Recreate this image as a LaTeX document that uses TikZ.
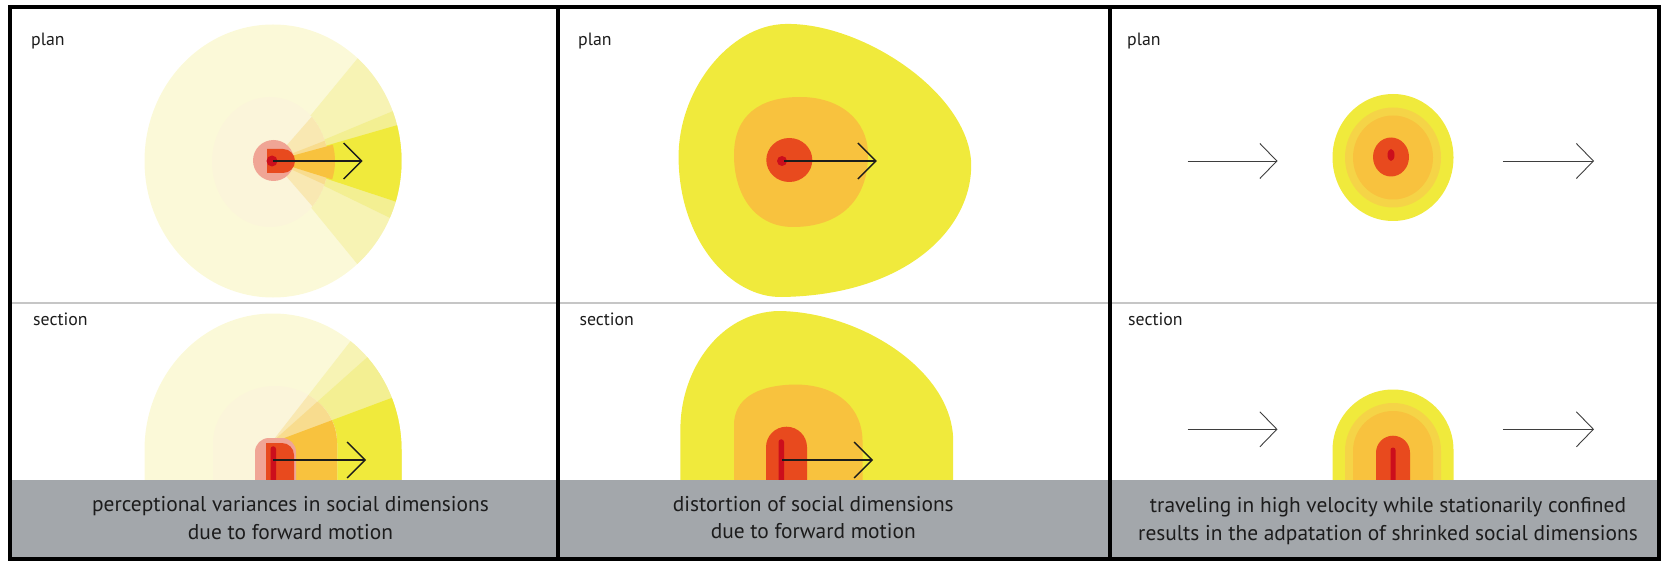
\documentclass[tikz,border=0pt]{standalone}
\usepackage{fontspec}
\setmainfont{PT Sans}
\usetikzlibrary{arrows.meta}
\definecolor{cream}{HTML}{FBF9D8}
\definecolor{wA}{HTML}{F7F3B4}
\definecolor{wB}{HTML}{F3EF92}
\definecolor{ylw}{HTML}{F0EA3C}
\definecolor{peach}{HTML}{FBF5DA}
\definecolor{pA}{HTML}{F9E8B2}
\definecolor{pB}{HTML}{F8DC8E}
\definecolor{org}{HTML}{F8C23E}
\definecolor{orgl}{HTML}{F5D447}
\definecolor{pinkc}{HTML}{F0A595}
\definecolor{redo}{HTML}{E84A1E}
\definecolor{dred}{HTML}{CC0E1C}
\definecolor{bandc}{HTML}{A3A7AB}
\definecolor{sepc}{HTML}{C6C6C6}
\definecolor{ink}{HTML}{1C1C1C}
\begin{document}
\begin{tikzpicture}[x=1pt,y=-1pt,
  lbltxt/.style={anchor=base west,inner sep=0pt,text=ink,font=\fontsize{17.8}{20}\selectfont},
  captxt/.style={anchor=base,inner sep=0pt,text=ink,font=\fontsize{21.4}{25}\selectfont},
  bigarr/.style={draw=ink,line width=1.3pt,-{Straight Barb[length=18pt,width=36pt]}},
  thinarr/.style={draw=ink!85,line width=0.9pt,-{Straight Barb[length=17pt,width=35pt]}},
  frameln/.style={draw=black,line width=4pt}]
\useasboundingbox (0,0) rectangle (1661,561);

% ---------- panel 1 plan ----------
\fill[cream] (273,161) ellipse[x radius=128.5,y radius=136.5];
\fill[wA] (273,161) -- ++(-48.8:128.5 and 136.5) arc[start angle=-48.8,end angle=49,x radius=128.5,y radius=136.5] -- cycle;
\fill[wB] (273,161) -- ++(-21.4:128.5 and 136.5) arc[start angle=-21.4,end angle=24.6,x radius=128.5,y radius=136.5] -- cycle;
\fill[ylw] (273,161) -- ++(-15.2:128.5 and 136.5) arc[start angle=-15.2,end angle=17.3,x radius=128.5,y radius=136.5] -- cycle;
\begin{scope}
\clip (270,162) ellipse[x radius=58,y radius=65];
\fill[peach] (270,162) ellipse[x radius=58,y radius=65];
\fill[pA] (273,161) -- ++(-48.8:140) arc[start angle=-48.8,end angle=49,radius=140] -- cycle;
\fill[pB] (273,161) -- ++(-21.4:140) arc[start angle=-21.4,end angle=24.6,radius=140] -- cycle;
\end{scope}
\fill[org] (273,161) -- ++(-15.2:62 and 62) arc[start angle=-15.2,end angle=17.3,radius=62] -- cycle;
\fill[pinkc] (273.5,160.5) circle[radius=20.5];
\fill[redo] (267,149) -- (283,149) arc[start angle=-90,end angle=90,radius=12] -- (267,173) -- cycle;
\fill[dred] (272,161) circle[radius=5.5];
\coordinate (a1s) at (273,161);
\coordinate (a1e) at (362.5,161);
\draw[bigarr] (a1s) -- (a1e);

% ---------- panel 1 section ----------
\fill[cream] (144.5,485) -- (144.5,450) arc[start angle=180,end angle=360,x radius=128.5,y radius=136.5] -- (401.5,485) -- cycle;
\begin{scope}
\clip (144.5,485) -- (144.5,450) arc[start angle=180,end angle=360,x radius=128.5,y radius=136.5] -- (401.5,485) -- cycle;
\fill[wA] (271,443) -- (455.7,206.6) -- (455.7,485) -- (271,485) -- cycle;
\fill[wB] (271,443) -- (495,243.4) -- (495,485) -- (271,485) -- cycle;
\fill[ylw] (271,443) -- (552,338) -- (552,485) -- (271,485) -- cycle;
\end{scope}
\begin{scope}
\clip (213,485) -- (213,443) arc[start angle=180,end angle=360,x radius=62,y radius=57] -- (337,485) -- cycle;
\fill[peach] (200,380) rectangle (340,485);
\fill[pA] (271,443) -- (455.7,206.6) -- (455.7,485) -- (271,485) -- cycle;
\fill[pB] (271,443) -- (495,243.4) -- (495,485) -- (271,485) -- cycle;
\fill[org] (271,443) -- (552,338) -- (552,485) -- (271,485) -- cycle;
\end{scope}
\fill[pinkc] (255,485) -- (255,452) arc[start angle=180,end angle=270,radius=14] -- (282,438) arc[start angle=270,end angle=360,radius=14] -- (296,485) -- cycle;
\fill[redo] (266,485) -- (266,443) -- (282,443) arc[start angle=270,end angle=360,radius=12] -- (294,485) -- cycle;
\fill[dred] (270.5,485) -- (270.5,449) arc[start angle=180,end angle=360,radius=2.75] -- (276,485) -- cycle;
\coordinate (a2s) at (273,460);
\coordinate (a2e) at (366,460);
\draw[bigarr] (a2s) -- (a2e);

% ---------- panel 2 plan ----------
\fill[ylw] (785,24) .. controls (860,22) and (965,90) .. (971,160)
  .. controls (975,225) and (910,295) .. (782,297)
  .. controls (730,298) and (680,240) .. (678.6,160)
  .. controls (677,90) and (730,25) .. (785,24) -- cycle;
\fill[org] (800,97) .. controls (840,97) and (868,120) .. (868,155)
  .. controls (868,200) and (840,227) .. (793,227)
  .. controls (755,227) and (734,195) .. (734,155)
  .. controls (734,115) and (760,97) .. (800,97) -- cycle;
\fill[redo] (789.3,160) ellipse[x radius=23,y radius=22];
\fill[dred] (782,161) circle[radius=5];
\coordinate (a3s) at (784,161);
\coordinate (a3e) at (876.8,161);
\draw[bigarr] (a3s) -- (a3e);

% ---------- panel 2 section ----------
\fill[ylw] (680.4,485) -- (680.4,430)
  .. controls (680,370) and (720,312) .. (779,311)
  .. controls (860,312) and (952,370) .. (953.2,440)
  -- (953.2,485) -- cycle;
\fill[org] (734,485) -- (734,425)
  .. controls (734,400) and (755,385) .. (796,384.5)
  .. controls (840,385) and (862,410) .. (862.5,440)
  -- (862.5,485) -- cycle;
\fill[redo] (766,485) -- (766,447.2) arc[start angle=180,end angle=360,radius=20.5] -- (807,485) -- cycle;
\fill[dred] (778.5,485) -- (778.5,442) arc[start angle=180,end angle=360,radius=2.75] -- (784,485) -- cycle;
\coordinate (a4s) at (782,460);
\coordinate (a4e) at (873,460);
\draw[bigarr] (a4s) -- (a4e);

% ---------- panel 3 plan ----------
\fill[ylw] (1393,157.5) ellipse[x radius=60.5,y radius=63.5];
\fill[orgl] (1393,157.5) ellipse[x radius=48,y radius=50];
\fill[org] (1393,157.5) ellipse[x radius=40,y radius=42];
\fill[redo] (1391,157) ellipse[x radius=18,y radius=19.5];
\fill[dred] (1391,155) ellipse[x radius=3.5,y radius=6];
\coordinate (a5s) at (1187.5,161);
\coordinate (a5e) at (1277.5,161);
\coordinate (a6s) at (1502.9,161);
\coordinate (a6e) at (1594,161);
\draw[thinarr] (a5s) -- (a5e);
\draw[thinarr] (a6s) -- (a6e);

% ---------- panel 3 section ----------
\fill[ylw] (1332.5,485) -- (1332.5,450) arc[start angle=180,end angle=360,radius=60.5] -- (1453.5,485) -- cycle;
\fill[orgl] (1345,485) -- (1345,451) arc[start angle=180,end angle=360,radius=48] -- (1441,485) -- cycle;
\fill[org] (1353,485) -- (1353,451) arc[start angle=180,end angle=360,radius=40] -- (1433,485) -- cycle;
\fill[redo] (1376,485) -- (1376,452.7) arc[start angle=180,end angle=360,radius=17] -- (1410,485) -- cycle;
\fill[dred] (1390.5,485) -- (1390.5,450) arc[start angle=180,end angle=360,radius=2.5] -- (1395.5,485) -- cycle;
\coordinate (a7s) at (1187.5,429.3);
\coordinate (a7e) at (1277.5,429.3);
\coordinate (a8s) at (1502.9,429.3);
\coordinate (a8e) at (1594,429.3);
\draw[thinarr] (a7s) -- (a7e);
\draw[thinarr] (a8s) -- (a8e);

% ---------- separator, band, captions ----------
\draw[sepc,line width=1.2pt] (10,303) -- (1658.5,303);
\fill[bandc] (10,480) rectangle (1658.5,557);

\node[lbltxt] (l1p) at (31,46) {plan};
\node[lbltxt] (l1s) at (33,325.7) {section};
\node[lbltxt] (l2p) at (578,46) {plan};
\node[lbltxt] (l2s) at (579.3,325.7) {section};
\node[lbltxt] (l3p) at (1127,46) {plan};
\node[lbltxt] (l3s) at (1128,325.7) {section};

\node[captxt] (c1a) at (290.5,511.5) {perceptional variances in social dimensions};
\node[captxt] (c1b) at (290.5,539) {due to forward motion};
\node[captxt] (c2a) at (813.3,511) {distortion of social dimensions};
\node[captxt] (c2b) at (813.3,538) {due to forward motion};
\node[captxt] (c3a) at (1388,512.5) {traveling in high velocity while stationarily confined};
\node[captxt] (c3b) at (1388,540) {results in the adpatation of shrinked social dimensions};

% ---------- frame ----------
\draw[frameln] (10,7) rectangle (1658.5,559);
\draw[frameln] (558,7) -- (558,559);
\draw[frameln] (1109.5,7) -- (1109.5,559);
\end{tikzpicture}
\end{document}
